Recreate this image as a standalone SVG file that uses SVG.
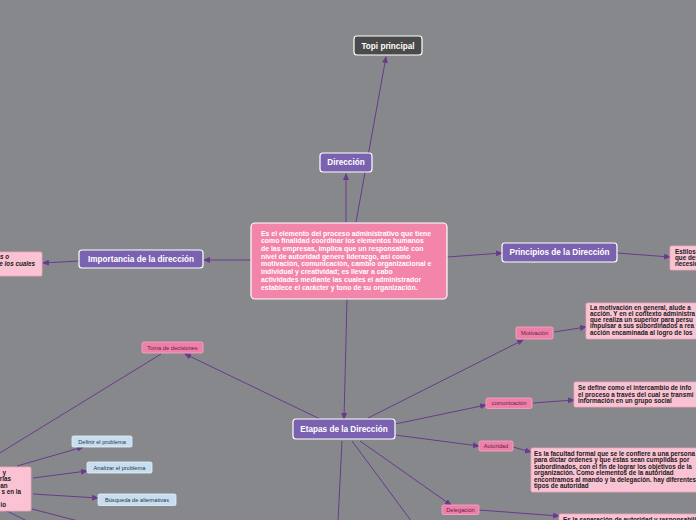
<svg xmlns="http://www.w3.org/2000/svg" width="696" height="520" viewBox="0 0 696 520">
<defs>
<marker id="ah" markerUnits="userSpaceOnUse" markerWidth="7" markerHeight="6" refX="6" refY="3" orient="auto">
<path d="M0,0 L7,3 L0,6 z" fill="#6a3a8c"/>
</marker>
<style>
.c{fill:none;stroke:#6a3a8c;stroke-width:1}
.ca{fill:none;stroke:#6a3a8c;stroke-width:1;marker-end:url(#ah)}
.main{fill:#7b62b0;stroke:#ffffff;stroke-width:1.2}
.mt{font-family:"Liberation Sans",Arial,sans-serif;font-weight:bold;font-size:8.2px;fill:#ffffff;text-anchor:middle}
.sub{fill:#f07fa8;stroke:#f5a8c4;stroke-width:0.8}
.st{font-family:"Liberation Sans",Arial,sans-serif;font-size:5.7px;fill:#5a2448;text-anchor:middle}
.desc{fill:#f9c3d3;stroke:#f3a5bf;stroke-width:0.8}
.dt{font-family:"Liberation Sans",Arial,sans-serif;font-weight:bold;font-size:6.3px;fill:#1a1a1a}
.blue{fill:#c6def0;stroke:#e6f1f9;stroke-width:0.8}
.bt{font-family:"Liberation Sans",Arial,sans-serif;font-size:5.7px;fill:#2b3440;text-anchor:middle}
</style>
</defs>
<rect x="0" y="0" width="696" height="520" fill="#87888c"/>

<g id="connectors">
<line class="ca" x1="356" y1="222" x2="386" y2="57"/>
<line class="ca" x1="346" y1="222" x2="346" y2="174"/>
<line class="ca" x1="251" y1="260" x2="204" y2="260"/>
<line class="ca" x1="79" y1="261" x2="43" y2="263"/>
<line class="ca" x1="447" y1="257" x2="502" y2="253"/>
<line class="ca" x1="617" y1="253" x2="670" y2="257"/>
<line class="ca" x1="347" y1="299" x2="344" y2="419"/>
<line class="ca" x1="320" y1="419" x2="185" y2="354"/>
<line class="c" x1="161" y1="354" x2="-10" y2="459"/>
<line class="ca" x1="17" y1="466" x2="83" y2="447"/>
<line class="ca" x1="33" y1="478" x2="87" y2="471"/>
<line class="ca" x1="33" y1="494" x2="98" y2="498"/>
<line class="c" x1="32" y1="509" x2="82" y2="522"/>
<line class="c" x1="5" y1="510" x2="29" y2="522"/>
<line class="ca" x1="368" y1="418" x2="523" y2="340"/>
<line class="ca" x1="554" y1="332" x2="586" y2="327"/>
<line class="ca" x1="395" y1="424" x2="486" y2="405"/>
<line class="ca" x1="533" y1="403" x2="574" y2="400"/>
<line class="ca" x1="395" y1="435" x2="479" y2="446"/>
<line class="ca" x1="513" y1="447" x2="531" y2="452"/>
<line class="ca" x1="360" y1="441" x2="451" y2="505"/>
<line class="ca" x1="479" y1="510" x2="559" y2="516"/>
<line class="c" x1="352" y1="441" x2="412" y2="522"/>
<line class="c" x1="342" y1="441" x2="338" y2="522"/>
</g>

<g id="topi">
<rect x="354" y="36" width="68" height="19" rx="3" fill="#4a4a4a" stroke="#ffffff" stroke-width="1.2"/>
<text class="mt" x="388" y="48.7">Topi principal</text>
</g>

<g id="direccion">
<rect x="320" y="153" width="52" height="19" rx="3" class="main"/>
<text class="mt" x="346" y="165.3">Dirección</text>
</g>

<g id="central">
<rect x="251" y="223" width="196" height="76" rx="4" fill="#f385aa" stroke="#ffffff" stroke-width="1.2"/>
<g class="dt" style="fill:#ffffff;font-size:6.9px">
<text x="261" y="235.6">Es el elemento del proceso administrativo que tiene</text>
<text x="261" y="243.3">como finalidad coordinar los elementos humanos</text>
<text x="261" y="251">de las empresas, implica que un responsable con</text>
<text x="261" y="258.7">nivel de autoridad genere liderazgo, así como</text>
<text x="261" y="266.4">motivación, comunicación, cambio organizacional e</text>
<text x="261" y="274.1">individual y creatividad; es llevar a cabo</text>
<text x="261" y="281.8">actividades mediante las cuales el administrador</text>
<text x="261" y="289.5">establece el carácter y tono de su organización.</text>
</g>
</g>

<g id="importancia">
<rect x="79" y="250" width="124" height="18" rx="3" class="main"/>
<text class="mt" x="141" y="262">Importancia de la dirección</text>
</g>

<g id="importancia-desc">
<rect x="-10" y="252" width="52" height="24" rx="1.5" class="desc"/>
<text class="dt" x="9" y="258.5" text-anchor="end" font-style="italic">s o</text>
<text class="dt" x="35" y="265.5" text-anchor="end" font-style="italic">e los cuales</text>
</g>

<g id="principios">
<rect x="502" y="243" width="115" height="19" rx="3" class="main"/>
<text class="mt" x="559.5" y="255.3">Principios de la Dirección</text>
</g>

<g id="principios-desc">
<rect x="670" y="246" width="40" height="24" rx="1.5" class="desc"/>
<text class="dt" x="675" y="254">Estilos</text>
<text class="dt" x="675" y="260">que des</text>
<text class="dt" x="675" y="266">necesid</text>
</g>

<g id="etapas">
<rect x="293" y="419" width="102" height="20" rx="3" class="main"/>
<text class="mt" x="344" y="431.8">Etapas de la Dirección</text>
</g>

<g id="toma">
<rect x="142" y="342" width="61" height="11" rx="1.5" class="sub"/>
<text class="st" x="172.5" y="349.6">Toma de decisiones</text>
</g>

<g id="toma-desc">
<rect x="-20" y="467" width="51" height="44" rx="1.5" class="desc"/>
<text class="dt" x="6" y="474.5" text-anchor="end">y</text>
<text class="dt" x="11" y="481" text-anchor="end">rias</text>
<text class="dt" x="7.5" y="487.5" text-anchor="end">an</text>
<text class="dt" x="21" y="494" text-anchor="end">s en la</text>
<text class="dt" x="6" y="507" text-anchor="end">io</text>
</g>

<g id="definir">
<rect x="72" y="436" width="60" height="11" rx="1.5" class="blue"/>
<text class="bt" x="102" y="443.5">Definir el problema</text>
</g>
<g id="analizar">
<rect x="87" y="462" width="65" height="11" rx="1.5" class="blue"/>
<text class="bt" x="119.5" y="469.5">Analizar el problema</text>
</g>
<g id="busqueda">
<rect x="98" y="494" width="78" height="11.5" rx="1.5" class="blue"/>
<text class="bt" x="137" y="501.8">Búsqueda de alternativas</text>
</g>

<g id="motivacion">
<rect x="516" y="327" width="37" height="12" rx="1.5" class="sub"/>
<text class="st" x="534.5" y="335">Motivación</text>
</g>
<g id="motivacion-desc">
<rect x="586" y="303" width="120" height="36" rx="1.5" class="desc"/>
<text class="dt" x="590" y="309.5">La motivación en general, alude a</text>
<text class="dt" x="590" y="315.8">acción. Y en el contexto administra</text>
<text class="dt" x="590" y="322.1">que realiza un superior para persu</text>
<text class="dt" x="590" y="328.4">impulsar a sus subordinados a rea</text>
<text class="dt" x="590" y="334.7">acción encaminada al logro de los</text>
</g>

<g id="comunicacion">
<rect x="486" y="398" width="46" height="10.5" rx="1.5" class="sub"/>
<text class="st" x="509" y="405.2">comunicación</text>
</g>
<g id="comunicacion-desc">
<rect x="574" y="382" width="130" height="25" rx="1.5" class="desc"/>
<text class="dt" x="578" y="390">Se define como el intercambio de info</text>
<text class="dt" x="578" y="396.5">el proceso a través del cual se transmi</text>
<text class="dt" x="578" y="403">información en un grupo social</text>
</g>

<g id="autoridad">
<rect x="479" y="441" width="34" height="10" rx="1.5" class="sub"/>
<text class="st" x="496" y="448">Autoridad</text>
</g>
<g id="autoridad-desc">
<rect x="531" y="448" width="175" height="44" rx="1.5" class="desc"/>
<text class="dt" x="534" y="455.5">Es la facultad formal que se le confiere a una persona</text>
<text class="dt" x="534" y="462">para dictar órdenes y que éstas sean cumplidas por</text>
<text class="dt" x="534" y="468.5">subordinados, con el fin de lograr los objetivos de la</text>
<text class="dt" x="534" y="475">organización. Como elementos de la autoridad</text>
<text class="dt" x="534" y="481.5">encontramos al mando y la delegación. hay diferentes</text>
<text class="dt" x="534" y="488">tipos de autoridad</text>
</g>

<g id="delegacion">
<rect x="442" y="505" width="37" height="9.5" rx="1.5" class="sub"/>
<text class="st" x="460.5" y="511.8">Delegación</text>
</g>
<g id="delegacion-desc">
<rect x="559" y="514" width="150" height="20" rx="1.5" class="desc"/>
<text class="dt" x="563" y="522">Es la separación de autoridad y responsabilidad</text>
</g>
</svg>
